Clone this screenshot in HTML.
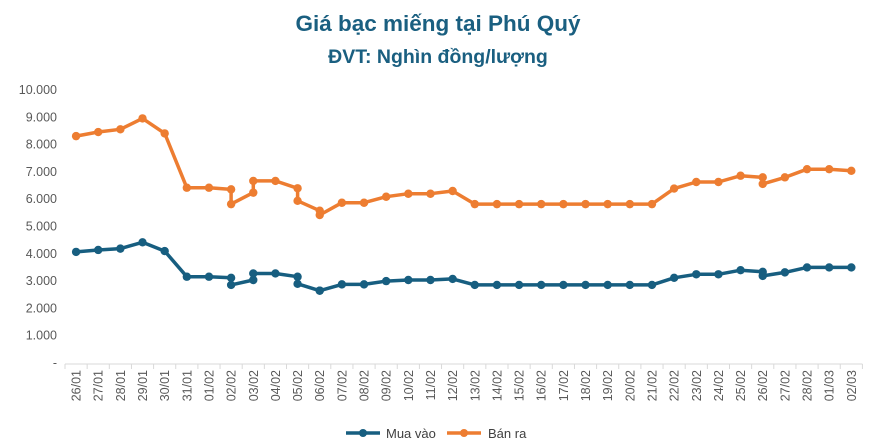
<!DOCTYPE html>
<html><head><meta charset="utf-8"><style>
body{margin:0;background:#fff;font-family:"Liberation Sans",sans-serif;}
svg{display:block}
</style></head><body>
<svg id="chart" width="877" height="448">
<text x="438" y="31" text-anchor="middle" font-size="22.5" font-weight="bold" fill="#1a5f80">Giá bạc miếng tại Phú Quý</text>
<text x="438" y="63" text-anchor="middle" font-size="19.5" font-weight="bold" fill="#1a5f80">ĐVT: Nghìn đồng/lượng</text>
<g id="yaxis"></g><g id="xaxis"></g><g id="series"></g>
<g>
<g><line x1="346" y1="433" x2="380" y2="433" stroke="#175e80" stroke-width="3.5"/><circle cx="363" cy="433" r="4" fill="#175e80"/><text x="386" y="438" font-size="13" fill="#404040">Mua vào</text></g>
<g><line x1="447" y1="433" x2="481" y2="433" stroke="#ed7d31" stroke-width="3.5"/><circle cx="464" cy="433" r="4" fill="#ed7d31"/><text x="488" y="438" font-size="13" fill="#404040">Bán ra</text></g>
</g>
</svg>
<script>
const categories=["26/01","27/01","28/01","29/01","30/01","31/01","01/02","02/02","03/02","04/02","05/02","06/02","07/02","08/02","09/02","10/02","11/02","12/02","13/02","14/02","15/02","16/02","17/02","18/02","19/02","20/02","21/02","22/02","23/02","24/02","25/02","26/02","27/02","28/02","01/03","02/03"];
const pointCat=[0,1,2,3,4,5,6,7,7,8,8,9,10,10,11,11,12,13,14,15,16,17,18,19,20,21,22,23,24,25,26,27,28,29,30,31,31,32,33,34,35];
const muaVao=[4070,4140,4190,4420,4100,3160,3160,3120,2860,3040,3280,3280,3160,2900,2650,2650,2880,2880,3000,3040,3040,3080,2860,2860,2860,2860,2860,2860,2860,2860,2860,3120,3250,3250,3400,3340,3190,3320,3500,3500,3500];
const banRa=[8310,8460,8560,8960,8410,6420,6420,6360,5820,6240,6670,6670,6400,5940,5580,5420,5870,5870,6090,6200,6200,6300,5820,5820,5820,5820,5820,5820,5820,5820,5820,6390,6630,6630,6860,6800,6560,6800,7100,7100,7040];
const yTicks=[0,1000,2000,3000,4000,5000,6000,7000,8000,9000,10000];
const yTickLabels=["-","1.000","2.000","3.000","4.000","5.000","6.000","7.000","8.000","9.000","10.000"];
const NS="http://www.w3.org/2000/svg";
const x0=65,cw=22.15,yZero=363,yTop=90;
const xC=i=>x0+(i+0.5)*cw;
const yS=v=>yZero-(v/10000)*(yZero-yTop);
function mk(t,a,p){const e=document.createElementNS(NS,t);for(const k in a)e.setAttribute(k,a[k]);p.appendChild(e);return e;}
const ya=document.getElementById('yaxis');
yTicks.forEach((v,i)=>{const t=mk('text',{x:57,y:yS(v)+4,'text-anchor':'end','font-size':12.5,fill:'#595959'},ya);


t.textContent=yTickLabels[i];});
const xa=document.getElementById('xaxis');
const axl=mk('line',{x1:x0,y1:yZero+1,x2:x0+categories.length*cw,y2:yZero+1,stroke:'#d9d9d9','stroke-width':1},xa);


for(let i=0;i<=categories.length;i++){mk('line',{x1:x0+i*cw,y1:yZero+1,x2:x0+i*cw,y2:yZero+6,stroke:'#d9d9d9'},xa);}
categories.forEach((c,i)=>{const t=mk('text',{transform:`translate(${xC(i)+4.5},370) rotate(-90)`,'text-anchor':'end','font-size':12.5,fill:'#595959'},xa);


t.textContent=c;});
const sg=document.getElementById('series');
[[muaVao,'#175e80','series-mua-vao'],[banRa,'#ed7d31','series-ban-ra']].forEach(([vals,col,nm])=>{
const g=mk('g',{},sg);


const pts=vals.map((v,i)=>xC(pointCat[i]).toFixed(1)+','+yS(v).toFixed(1)).join(' ');
const pl=mk('polyline',{points:pts,fill:'none',stroke:col,'stroke-width':3.5,'stroke-linejoin':'round'},g);


vals.forEach((v,i)=>{const c=mk('circle',{cx:xC(pointCat[i]),cy:yS(v),r:4.2,fill:col},g);

});
});
</script>
</body></html>
